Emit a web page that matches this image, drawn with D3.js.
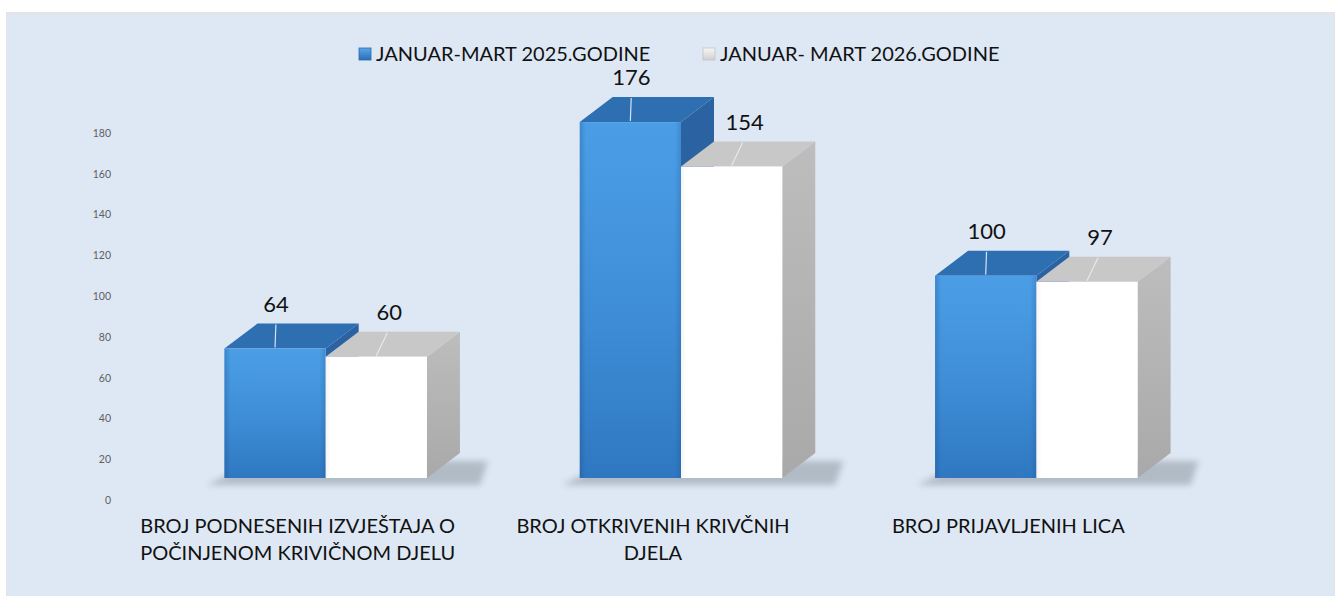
<!DOCTYPE html>
<html>
<head>
<meta charset="utf-8">
<script src="https://cdn.jsdelivr.net/npm/d3@7"></script>
<style>
  body { margin: 0; background: #fff; }
  svg { display: block; font-family: Lato, "Open Sans", sans-serif; }
</style>
</head>
<body>
<svg id="chart" width="1341" height="596"></svg>
<script>
// chart data
const categories = ['podneseni', 'otkrivena', 'prijavljeni'];
const categoryLines = [
  ['BROJ PODNESENIH IZVJEŠTAJA O', 'POČINJENOM KRIVIČNOM DJELU'],
  ['BROJ OTKRIVENIH KRIVČNIH', 'DJELA'],
  ['BROJ PRIJAVLJENIH LICA']
];
const seriesNames = ['JANUAR-MART 2025.GODINE', 'JANUAR- MART 2026.GODINE'];
const values2025 = [64, 176, 100];
const values2026 = [60, 154, 97];
const yTicks = [0, 20, 40, 60, 80, 100, 120, 140, 160, 180];

const W = 1341, H = 596;
const svg = d3.select('#chart');
const defs = svg.append('defs');

// gradients
function vGrad(id, stops) {
  const gr = defs.append('linearGradient').attr('id', id)
    .attr('x1', 0).attr('y1', 0).attr('x2', 0).attr('y2', 1);
  stops.forEach(s => gr.append('stop').attr('offset', s[0]).attr('stop-color', s[1]));
}
function hGrad(id, stops) {
  const gr = defs.append('linearGradient').attr('id', id)
    .attr('x1', 0).attr('y1', 0).attr('x2', 1).attr('y2', 0);
  stops.forEach(s => gr.append('stop').attr('offset', s[0]).attr('stop-color', s[1]));
}
vGrad('blueFront', [[0, '#4b9ee6'], [0.5, '#3f8fd8'], [1, '#2f78c1']]);
hGrad('blueEdge', [[0, 'rgba(20,60,120,0.25)'], [0.06, 'rgba(20,60,120,0)'], [0.94, 'rgba(20,60,120,0)'], [1, 'rgba(20,60,120,0.2)']]);
vGrad('whiteSide', [[0, '#bdbdbd'], [1, '#a9a9a9']]);
hGrad('whiteFront', [[0, '#f4f4f4'], [0.05, '#ffffff'], [1, '#ffffff']]);
vGrad('legBlue', [[0, '#5aa6ea'], [1, '#2a6fb5']]);
vGrad('legWhite', [[0, '#f7f7f7'], [1, '#d0d0d0']]);

const blur = defs.append('filter').attr('id', 'shadowBlur')
  .attr('x', '-20%').attr('y', '-50%').attr('width', '140%').attr('height', '200%');
blur.append('feGaussianBlur').attr('stdDeviation', 3);

// background panel
svg.append('rect').attr('width', W).attr('height', H).attr('fill', '#ffffff');
svg.append('rect').attr('x', 6).attr('y', 12).attr('width', W - 12).attr('height', H - 12)
  .attr('fill', '#e4e4e4');
svg.append('rect').attr('x', 7).attr('y', 14).attr('width', W - 14).attr('height', H - 14)
  .attr('fill', '#dde8f4');

// scales
const x = d3.scaleBand().domain(categories).range([148, 1214])
  .paddingInner(0.43).paddingOuter(0.215);
const xs = d3.scaleBand().domain([0, 1]).range([0, x.bandwidth()]);
const yAxisScale = d3.scaleLinear().domain([0, 180]).range([500, 133]);
const yBar = d3.scaleLinear().domain([0, 180]).range([478, 114]);
const base = yBar(0);
const dx = 33, dy = -25;

// y axis (labels only)
const yAxis = d3.axisLeft(yAxisScale).tickValues(yTicks).tickSize(0).tickPadding(0);
const ya = svg.append('g').attr('transform', 'translate(111,0)').call(yAxis);
ya.select('.domain').remove();
ya.selectAll('text').attr('fill', '#606060').style('font-size', '10.5px')
  .style('font-family', 'Lato, sans-serif');

// floor shadows
const shadowG = svg.append('g');
categories.forEach(c => {
  const x0 = x(c), x1 = x(c) + x.bandwidth();
  shadowG.append('path')
    .attr('d', d3.line()([[x0 - 18, base + 7], [x1 + dx + 20, base + 7], [x1 + dx + 28, base + dy + 8], [x0 + dx, base + dy + 8]]) + 'Z')
    .attr('fill', '#7d8590').attr('opacity', 0.45).attr('filter', 'url(#shadowBlur)');
});

// 3D bars
const series = [
  { values: values2025, front: 'url(#blueFront)', top: '#2e6fb2', side: '#2a62a2' },
  { values: values2026, front: 'url(#whiteFront)', top: '#c8c8c8', side: 'url(#whiteSide)' }
];
const barsG = svg.append('g');
categories.forEach((c, i) => {
  series.forEach((s, si) => {
    const bx = x(c) + xs(si), bw = xs.bandwidth();
    const top = yBar(s.values[i]);
    const g = barsG.append('g');
    // side face
    g.append('path')
      .attr('d', d3.line()([[bx + bw, top], [bx + bw + dx, top + dy], [bx + bw + dx, base + dy], [bx + bw, base]]) + 'Z')
      .attr('fill', s.side);
    // top face
    g.append('path')
      .attr('d', d3.line()([[bx, top], [bx + dx, top + dy], [bx + bw + dx, top + dy], [bx + bw, top]]) + 'Z')
      .attr('fill', s.top);
    // front face
    g.append('rect').attr('x', bx).attr('y', top).attr('width', bw).attr('height', base - top)
      .attr('fill', s.front);
    if (si === 0) {
      g.append('rect').attr('x', bx).attr('y', top).attr('width', bw).attr('height', base - top)
        .attr('fill', 'url(#blueEdge)');
    }
  });
});

// value labels with leader lines
const labelsG = svg.append('g');
categories.forEach((c, i) => {
  series.forEach((s, si) => {
    const cx = x(c) + xs(si) + xs.bandwidth() / 2;
    const top = yBar(s.values[i]);
    const ox = si === 0 ? 1 : 13;
    labelsG.append('line')
      .attr('x1', cx).attr('y1', top - 1)
      .attr('x2', cx + ox * 0.85).attr('y2', top + dy + 1)
      .attr('stroke', si === 0 ? '#d6e3f2' : '#e8e8e8').attr('stroke-width', 1.2);
    labelsG.append('text')
      .attr('x', cx + ox).attr('y', top - 37)
      .attr('text-anchor', 'middle')
      .style('font-size', '22px').attr('fill', '#111')
      .text(s.values[i]);
  });
});

// category labels
const catG = svg.append('g');
categories.forEach((c, i) => {
  const cx = x(c) + x.bandwidth() / 2 - 28;
  const t = catG.append('text').attr('text-anchor', 'middle')
    .style('font-size', '20px').attr('fill', '#111');
  categoryLines[i].forEach((ln, li) => {
    t.append('tspan').attr('x', cx).attr('y', 533 + li * 27).text(ln);
  });
});

// legend
const legendX = [359, 703];
const legendFill = ['url(#legBlue)', 'url(#legWhite)'];
const legG = svg.append('g');
seriesNames.forEach((n, i) => {
  legG.append('rect').attr('x', legendX[i]).attr('y', 48).attr('width', 12).attr('height', 12)
    .attr('fill', legendFill[i]).attr('stroke', i === 0 ? '#2a6aa8' : '#c4c4c4').attr('stroke-width', 0.8);
  legG.append('text').attr('x', legendX[i] + 17).attr('y', 61)
    .style('font-size', '20px').attr('fill', '#111').text(n);
});
</script>
</body>
</html>
